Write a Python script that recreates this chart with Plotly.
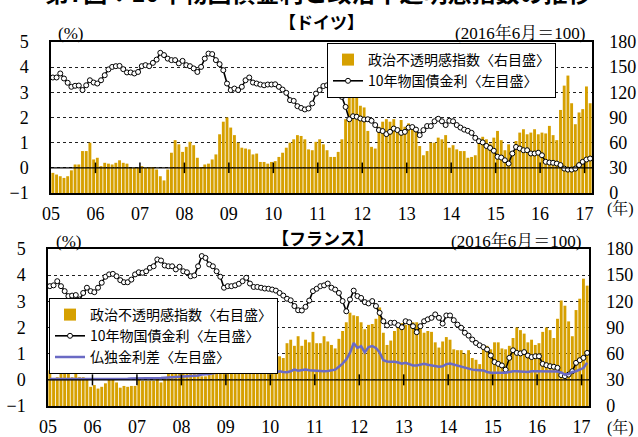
import plotly.graph_objects as go

# ---------------- data (monthly, Jan 2005 - Feb 2017) ----------------
year_labels = ["05", "06", "07", "08", "09", "10", "11", "12", "13", "14", "15", "16", "17"]

de_yield = [3.59, 3.59, 3.75, 3.55, 3.38, 3.22, 3.26, 3.27, 3.09, 3.28, 3.48, 3.39,
            3.35, 3.48, 3.68, 3.91, 4.01, 4.04, 4.05, 3.92, 3.79, 3.79, 3.75, 3.81,
            4.04, 4.08, 4.04, 4.17, 4.30, 4.57, 4.48, 4.34, 4.28, 4.28, 4.15, 4.25,
            4.08, 4.04, 3.95, 3.81, 4.01, 4.34, 4.54, 4.52, 4.28, 4.12, 3.88, 3.35,
            3.09, 3.15, 3.09, 3.22, 3.48, 3.59, 3.39, 3.35, 3.31, 3.28, 3.31, 3.31,
            3.32, 3.22, 3.11, 2.98, 2.69, 2.66, 2.45, 2.38, 2.32, 2.36, 2.56, 2.95,
            3.09, 3.25, 3.28, 3.38, 3.11, 3.02, 2.82, 2.42, 1.93, 2.05, 2.03, 1.96,
            1.92, 1.93, 1.87, 1.70, 1.50, 1.46, 1.34, 1.43, 1.56, 1.50, 1.39, 1.43,
            1.60, 1.62, 1.52, 1.30, 1.50, 1.66, 1.66, 1.85, 1.95, 1.85, 1.70, 1.87,
            1.85, 1.70, 1.60, 1.52, 1.47, 1.39, 1.19, 1.06, 1.01, 0.87, 0.79, 0.68,
            0.44, 0.41, 0.30, 0.17, 0.57, 0.83, 0.77, 0.70, 0.70, 0.57, 0.57, 0.60,
            0.50, 0.24, 0.21, 0.20, 0.17, 0.11, -0.03, -0.07, -0.07, -0.03, 0.11, 0.24,
            0.33, 0.37]

de_index = [24, 22, 20, 18, 20, 27, 34, 34, 50, 50, 60, 40,
            42, 32, 36, 35, 34, 36, 39, 36, 35, 30, 30, 30,
            32, 30, 31, 31, 28, 20, 15, 28, 48, 63, 58, 49,
            55, 61, 57, 42, 31, 34, 35, 40, 46, 70, 85, 90,
            78, 69, 60, 54, 53, 52, 46, 47, 37, 37, 35, 37,
            38, 43, 48, 54, 60, 64, 69, 68, 64, 52, 51, 61,
            64, 58, 51, 43, 43, 49, 64, 88, 118, 124, 131, 104,
            102, 74, 55, 53, 79, 85, 88, 85, 88, 78, 87, 79,
            83, 77, 74, 56, 45, 50, 60, 60, 66, 64, 69, 54,
            57, 52, 50, 50, 42, 43, 45, 63, 67, 64, 59, 66,
            74, 63, 51, 58, 50, 62, 72, 76, 70, 72, 76, 70,
            72, 71, 80, 69, 63, 99, 128, 140, 107, 82, 96, 100,
            127, 107]

fr_yield = [3.58, 3.61, 3.77, 3.58, 3.39, 3.20, 3.22, 3.24, 3.07, 3.32, 3.52, 3.39,
            3.35, 3.52, 3.71, 3.94, 4.03, 4.05, 3.96, 3.81, 3.73, 3.73, 3.83, 4.03,
            4.11, 4.09, 4.15, 4.28, 4.34, 4.60, 4.56, 4.37, 4.34, 4.34, 4.22, 4.32,
            4.15, 4.11, 3.96, 3.99, 4.34, 4.73, 4.66, 4.41, 4.34, 4.15, 3.94, 3.52,
            3.58, 3.58, 3.61, 3.67, 3.77, 3.90, 3.68, 3.55, 3.55, 3.52, 3.49, 3.48,
            3.45, 3.41, 3.32, 3.22, 3.10, 3.04, 2.82, 2.66, 2.65, 2.79, 3.03, 3.39,
            3.48, 3.58, 3.61, 3.68, 3.52, 3.45, 3.32, 3.01, 2.62, 3.07, 3.41, 3.20,
            3.13, 2.97, 2.92, 3.01, 2.82, 2.56, 2.24, 2.08, 2.18, 2.18, 2.09, 2.01,
            2.24, 2.20, 2.05, 1.82, 2.05, 2.24, 2.31, 2.37, 2.50, 2.37, 2.15, 2.46,
            2.46, 2.28, 2.11, 1.99, 1.80, 1.69, 1.54, 1.41, 1.32, 1.25, 1.16, 0.93,
            0.68, 0.61, 0.55, 0.39, 0.84, 1.13, 1.03, 1.01, 1.06, 0.93, 0.87, 0.90,
            0.90, 0.61, 0.56, 0.52, 0.50, 0.46, 0.18, 0.14, 0.20, 0.33, 0.65, 0.75,
            0.84, 1.03]

fr_spread = [0.03, 0.03, 0.02, 0.03, 0.02, 0.02, 0.03, 0.02, 0.02, 0.03, 0.03, 0.02,
             0.03, 0.04, 0.03, 0.03, 0.02, 0.03, 0.03, 0.04, 0.04, 0.04, 0.05, 0.05,
             0.05, 0.05, 0.06, 0.06, 0.05, 0.05, 0.07, 0.08, 0.09, 0.09, 0.10, 0.10,
             0.12, 0.12, 0.14, 0.15, 0.17, 0.20, 0.20, 0.22, 0.25, 0.27, 0.30, 0.35,
             0.45, 0.50, 0.55, 0.53, 0.50, 0.45, 0.40, 0.35, 0.30, 0.28, 0.27, 0.29,
             0.27, 0.28, 0.33, 0.30, 0.29, 0.33, 0.39, 0.35, 0.36, 0.39, 0.37, 0.36,
             0.34, 0.33, 0.33, 0.34, 0.36, 0.39, 0.50, 0.62, 0.78, 1.03, 1.41, 1.22,
             1.29, 1.05, 1.25, 1.29, 1.22, 1.05, 0.75, 0.70, 0.69, 0.69, 0.66, 0.62,
             0.65, 0.60, 0.55, 0.55, 0.58, 0.61, 0.58, 0.55, 0.53, 0.50, 0.52, 0.60,
             0.62, 0.58, 0.55, 0.50, 0.46, 0.42, 0.39, 0.38, 0.37, 0.36, 0.30, 0.27,
             0.27, 0.27, 0.27, 0.27, 0.30, 0.33, 0.33, 0.33, 0.31, 0.30, 0.33, 0.33,
             0.33, 0.33, 0.33, 0.33, 0.33, 0.32, 0.28, 0.20, 0.22, 0.30, 0.33, 0.40,
             0.45, 0.65]

fr_index = [41, 31, 33, 40, 45, 42, 33, 38, 33, 33, 32, 22,
            24, 20, 22, 26, 31, 31, 27, 21, 23, 22, 23, 23,
            32, 29, 29, 29, 29, 31, 27, 32, 62, 65, 42, 53,
            75, 68, 80, 60, 43, 34, 34, 43, 60, 80, 95, 100,
            110, 100, 90, 49, 50, 47, 39, 38, 39, 51, 53, 55,
            53, 55, 57, 55, 72, 76, 69, 80, 69, 76, 73, 85,
            72, 72, 80, 74, 70, 66, 77, 86, 96, 107, 104, 103,
            96, 88, 93, 94, 100, 113, 84, 70, 75, 86, 93, 95,
            93, 98, 96, 96, 92, 84, 86, 85, 73, 67, 74, 79,
            76, 65, 64, 64, 60, 64, 55, 53, 48, 67, 69, 65,
            73, 73, 66, 65, 69, 78, 90, 87, 83, 73, 76, 70,
            72, 85, 90, 87, 78, 100, 121, 115, 97, 80, 110, 123,
            146, 138]

months = list(range(len(de_yield)))
year_ticks = [12 * k - 0.5 for k in range(len(year_labels))]

# ---------------- styling ----------------
GOLD = "#D6A000"
BLUE = "#6A6AC4"
SERIF = "Liberation Serif, Noto Serif CJK JP, Noto Sans CJK JP, serif"
GOTHIC = "Noto Sans CJK JP, sans-serif"
CLEAR = "rgba(0,0,0,0)"

W, H = 638, 437
ML, MR, MT, MB = 48, 46, 42, 31
PW, PH = W - ML - MR, H - MT - MB


def px_x(x):
    return (x - ML) / PW


def px_y(y):
    return (H - MB - y) / PH


fig = go.Figure()

# top: Germany  (bars on y (right side), lines on y2 (left side))
fig.add_trace(go.Bar(x=months, y=de_index, name="政治不透明感指数〈右目盛〉",
                     marker=dict(color=GOLD, line=dict(width=0)),
                     xaxis="x", yaxis="y", legend="legend"))
fig.add_trace(go.Scatter(x=months, y=de_yield, name="10年物国債金利〈左目盛〉",
                         mode="lines+markers",
                         line=dict(color="black", width=1.6),
                         marker=dict(symbol="circle", size=5, color="white",
                                     line=dict(color="black", width=1)),
                         xaxis="x", yaxis="y2", legend="legend"))

# bottom: France
fig.add_trace(go.Bar(x=months, y=fr_index, name="政治不透明感指数〈右目盛〉",
                     marker=dict(color=GOLD, line=dict(width=0)),
                     xaxis="x2", yaxis="y3", legend="legend2"))
fig.add_trace(go.Scatter(x=months, y=fr_yield, name="10年物国債金利〈左目盛〉",
                         mode="lines+markers",
                         line=dict(color="black", width=1.6),
                         marker=dict(symbol="circle", size=5, color="white",
                                     line=dict(color="black", width=1)),
                         xaxis="x2", yaxis="y4", legend="legend2"))
fig.add_trace(go.Scatter(x=months, y=fr_spread, name="仏独金利差〈左目盛〉",
                         mode="lines", line=dict(color=BLUE, width=2.5),
                         xaxis="x2", yaxis="y4", legend="legend2"))

top_dom = [px_y(193), 1.0]
bot_dom = [0.0, px_y(249)]

xcommon = dict(range=[-0.5, len(months) - 0.5], tickmode="array",
               tickvals=year_ticks, ticktext=year_labels,
               ticks="outside", ticklen=4, tickcolor=CLEAR,
               showgrid=False, zeroline=False, showline=True, mirror=True,
               linecolor="black", linewidth=1.5, automargin=False,
               tickfont=dict(family=SERIF, size=18, color="black"))
rightcommon = dict(range=[0, 180], tickmode="array", tickvals=list(range(0, 181, 30)),
                   side="right", showgrid=False, zeroline=False, showline=True,
                   linecolor="black", linewidth=1.5,
                   ticks="outside", ticklen=12, tickcolor=CLEAR, automargin=False,
                   tickfont=dict(family=SERIF, size=18, color="black"))
leftcommon = dict(range=[-1, 5], tickmode="array", tickvals=list(range(-1, 6)),
                  side="left", showgrid=True, gridcolor="#222222", griddash="dot",
                  gridwidth=1, zeroline=False, showline=True, linecolor="black",
                  linewidth=1.5, ticks="outside", ticklen=17, tickcolor=CLEAR,
                  automargin=False,
                  tickfont=dict(family=SERIF, size=18, color="black"))

fig.update_layout(
    width=W, height=H,
    margin=dict(l=ML, r=MR, t=MT, b=MB, pad=0, autoexpand=False),
    paper_bgcolor="white", plot_bgcolor="white",
    bargap=0.22, showlegend=True,
    xaxis=dict(domain=[px_x(51), 1.0], anchor="y", **xcommon),
    yaxis=dict(domain=top_dom, anchor="x", **rightcommon),
    yaxis2=dict(domain=top_dom, anchor="x", overlaying="y", **leftcommon),
    xaxis2=dict(domain=[0.0, px_x(589)], anchor="y3", **xcommon),
    yaxis3=dict(domain=bot_dom, anchor="x2", **rightcommon),
    yaxis4=dict(domain=bot_dom, anchor="x2", overlaying="y3", **leftcommon),
    legend=dict(x=px_x(327), y=px_y(43), xanchor="left", yanchor="top",
                bgcolor="white", bordercolor="black", borderwidth=1,
                font=dict(family=GOTHIC, size=14, color="black"),
                tracegroupgap=0, itemwidth=30),
    legend2=dict(x=px_x(49), y=px_y(298), xanchor="left", yanchor="top",
                 bgcolor="white", bordercolor="black", borderwidth=1,
                 font=dict(family=GOTHIC, size=14, color="black"),
                 tracegroupgap=0, itemwidth=30),
)

# zero line with year tick marks across it (drawn above the bars)
shapes = []
for xr, yr in (("x", "y2"), ("x2", "y4")):
    shapes.append(dict(type="line", xref=xr, yref=yr, x0=-0.5, x1=len(months) - 0.5,
                       y0=0, y1=0, line=dict(color="black", width=1.3), layer="above"))
    for t in year_ticks[1:]:
        shapes.append(dict(type="line", xref=xr, yref=yr, x0=t, x1=t, y0=-0.21, y1=0.21,
                           line=dict(color="black", width=1.5), layer="above"))
fig.update_layout(shapes=shapes)

ann = []


def text(x, y, s, size=17, family=SERIF, bold=False, xanchor="center"):
    ann.append(dict(x=px_x(x), y=px_y(y), xref="paper", yref="paper", text=(f"<b>{s}</b>" if bold else s),
                    showarrow=False, xanchor=xanchor, yanchor="middle",
                    font=dict(family=family, size=size, color="black")))


text(318, -9, "第7図：10年物国債金利と政治不透明感指数の推移", size=24, family=GOTHIC, bold=True)
text(321, 22, "【ドイツ】", size=17, family=GOTHIC, bold=True)
text(70, 33, "(%)", size=17)
text(520, 33, "(2016年6月＝100)", size=17)
text(620, 208, "(年)", size=16)
text(323, 237, "【フランス】", size=17, family=GOTHIC, bold=True)
text(68, 241, "(%)", size=17)
text(516, 241, "(2016年6月＝100)", size=17)
text(620, 427, "(年)", size=16)
fig.update_layout(annotations=ann)

fig.write_html("out.html", config={"displayModeBar": False},
               post_script="document.body.style.margin='0';document.body.style.padding='0';")
